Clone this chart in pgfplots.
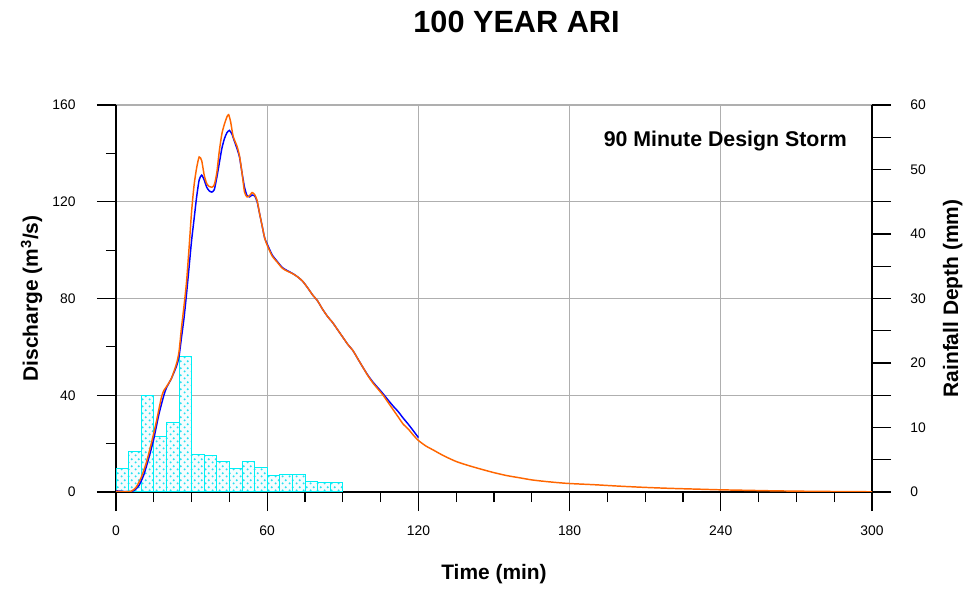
\documentclass[border=0pt]{standalone}
\usepackage{fontspec}
\setmainfont{Liberation Sans}
\usepackage{pgfplots}
\pgfplotsset{compat=1.18}
\usetikzlibrary{patterns.meta}

\definecolor{flowA}{RGB}{255,102,0}
\definecolor{flowB}{RGB}{0,0,255}
\definecolor{rainedge}{RGB}{0,240,245}
\definecolor{raindot}{RGB}{40,225,240}
\definecolor{gridc}{RGB}{175,175,175}

% dotted fill used for the rainfall hyetograph
\tikzdeclarepattern{
  name=stormdots,
  type=uncolored,
  bounding box={(0pt,0pt) and (5pt,5pt)},
  tile size={(5pt,5pt)},
  code={
    \fill (1.25pt,1.25pt) circle (0.85pt);
    \fill (3.75pt,3.75pt) circle (0.85pt);
  }
}

\pgfplotsset{
  common/.style={
    scale only axis, width=567pt, height=290.25pt,
    at={(0,0)}, anchor=south west,
    xmin=0, xmax=300,
    tick align=outside,
    /pgf/number format/assume math mode=true,
    tick label style={font=\fontsize{10.4}{12}\selectfont},
  },
}

\begin{document}
\begin{tikzpicture}

% frame, grid and discharge / time scales
\begin{axis}[common, name=main,
  ymin=0, ymax=160,
  axis x line*=bottom, axis y line*=left,
  xtick={0,60,...,300}, minor x tick num=3,
  ytick={0,40,...,160}, minor y tick num=1,
  major tick length=14.25pt, minor tick length=7.5pt,
  grid=major, major grid style={gridc, line width=0.9pt},
  axis line style={black, line width=0.8pt, -},
  every tick/.style={black, line width=0.8pt},
  xticklabel style={yshift=-7.75pt},
  yticklabel style={xshift=-12.5pt},
]
\end{axis}

% rainfall depth per 5 minute block
\begin{axis}[common,
  ymin=0, ymax=60,
  axis x line=none, axis y line*=right,
  ytick={0,10,...,60}, minor y tick num=1,
  major tick length=14.25pt, minor tick length=14.25pt,
  axis line style={black, line width=0.8pt, -},
  every tick/.style={black, line width=0.8pt},
  yticklabel style={xshift=11pt},
]
\addplot[ybar interval, draw=rainedge, line width=0.75pt, fill=cyan!4,
  postaction={pattern={stormdots}, pattern color=raindot}]
  coordinates {
  (0,3.7) (5,6.3) (10,15) (15,8.6) (20,10.7) (25,21)
  (30,5.85) (35,5.7) (40,4.75) (45,3.7) (50,4.75) (55,3.85)
  (60,2.55) (65,2.75) (70,2.7) (75,1.65) (80,1.5) (85,1.5) (90,1.5)
  };
\end{axis}

% discharge hydrographs
\begin{axis}[common, ymin=0, ymax=160, hide axis]
\addplot[flowB, line width=1.1pt, smooth, tension=0.4] coordinates {
  (0,0.5) (2,0.3) (5,0.1) (7,0.5) (9,2.5) (11,7) (13,14) (15,22) (17,32)
  (19,40) (20,43) (22,47) (24,52) (25,56) (26,64) (27,72) (28,82) (29,93)
  (30,104) (31,113) (32,122) (33,129) (34,131) (35,129) (36,126) (37,124.5)
  (38,124) (39,125) (40,130) (41,136) (42,142) (43,146) (44,148.5) (45,149.5)
  (46,148) (47,145) (48,142) (49,138.5) (50,132) (51,126) (52,122.5) (53,122)
  (54,122.8) (55,122.5) (56,120) (57,115) (58,110) (59,105) (60,102.5)
  (62,98) (64,95.3) (66,92.8) (68,91.5) (70,90.4) (72,89) (74,87.2) (76,84.5)
  (78,81.5) (80,79) (82,75.5) (84,72.5) (86,70) (88,67) (90,64) (92,61)
  (94,58.5) (96,55) (98,51.5) (100,48.2) (102,45.4) (104,43) (106,40.6)
  (108,38) (110,35.5) (112,33.2) (114,30.5) (116,28) (118,25.3) (120,22.5)
};
\addplot[flowA, line width=1.1pt, smooth, tension=0.4] coordinates {
  (0,0.3) (3,0.1) (6,0.3) (8,2) (10,6) (12,12) (14,20) (16,29) (18,39)
  (19,42) (20,43.5) (22,47) (24,53) (25,58) (26,68) (27,77) (28,87)
  (29,101) (30,116) (31,127) (32,134) (33,138.5) (34,137) (35,131)
  (36,127.5) (37,126.3) (38,126) (39,127) (40,132) (41,141) (42,148)
  (43,152) (44,155) (44.7,156) (45.5,153) (46.5,147) (48,143) (49,139)
  (50,132) (51,124) (52,122) (53,122.5) (54,123.8) (55,123) (56,120.5)
  (57,115) (58,110) (59,105) (60,102) (62,97.5) (64,95) (66,92.5)
  (68,91.3) (70,90.3) (72,89) (74,87.2) (76,84.5) (78,81.5) (80,79)
  (82,75.5) (84,72.5) (86,70) (88,67) (90,64) (92,61) (94,58.5) (96,55)
  (98,51.5) (100,48) (102,45) (104,42.5) (106,40) (108,37) (110,34)
  (112,31) (114,28) (116,26) (118,23.5) (120,21.3) (123,19) (126,17.3)
  (130,15) (135,12.6) (140,10.9) (145,9.4) (150,8) (155,6.8) (160,5.9)
  (165,5) (170,4.4) (175,3.9) (180,3.5) (190,3) (200,2.4) (210,1.9)
  (220,1.5) (230,1.2) (240,0.9) (250,0.7) (260,0.5) (270,0.35)
  (280,0.25) (290,0.15) (300,0.1)
};
\end{axis}

% titles and axis labels
\node[anchor=base, font=\fontsize{23}{27}\selectfont\bfseries]
  at ([xshift=300.4pt, yshift=54pt]main.north west) {100 YEAR ARI};
\node[anchor=base west, font=\fontsize{16}{19}\selectfont\bfseries]
  at ([xshift=362.3pt, yshift=-31.3pt]main.north west) {90 Minute Design Storm};
\node[anchor=base, font=\fontsize{15.7}{18}\selectfont\bfseries]
  at ([xshift=283.5pt, yshift=-65.25pt]main.south west) {Time (min)};
\node[anchor=base, rotate=90, font=\fontsize{15.7}{18}\selectfont\bfseries]
  at ([xshift=-58.5pt]main.west) {Discharge (m\textsuperscript{3}/s)};
\node[anchor=base, rotate=90, font=\fontsize{15.7}{18}\selectfont\bfseries]
  at ([xshift=64.5pt]main.east) {Rainfall Depth (mm)};

% page extent
\pgfresetboundingbox
\path[use as bounding box] ([xshift=-87pt, yshift=-75pt]main.south west)
  rectangle ([xshift=68.25pt, yshift=78.75pt]main.north east);
\end{tikzpicture}
\end{document}
